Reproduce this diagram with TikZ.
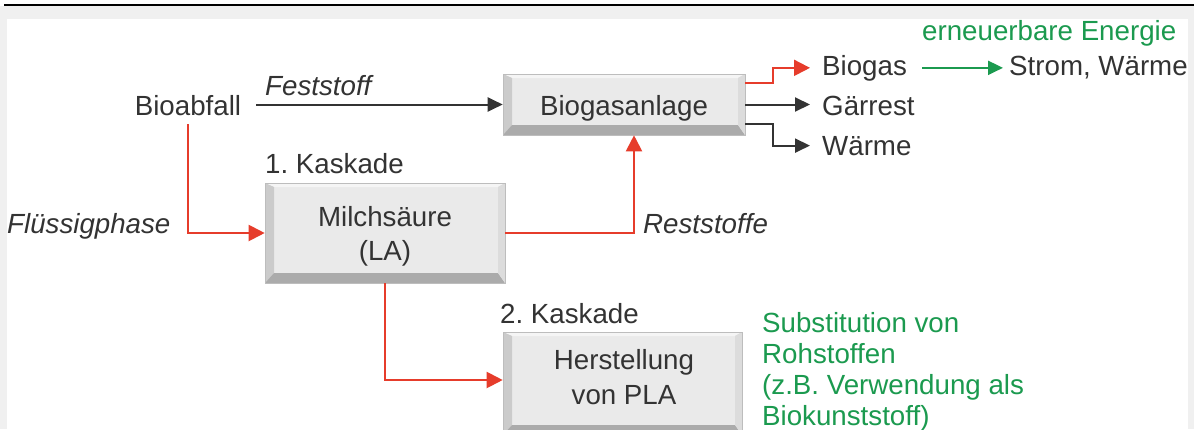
\documentclass[tikz,border=0pt]{standalone}
\usepackage{fontspec}
\setmainfont{Liberation Sans}
\usetikzlibrary{arrows.meta}
\frenchspacing
\definecolor{txtc}{HTML}{333333}
\definecolor{redc}{HTML}{E63C2B}
\definecolor{grnc}{HTML}{1B9A4F}
\definecolor{face}{HTML}{EAEAEA}
\definecolor{edgec}{HTML}{BDBDBD}
\definecolor{bevT}{HTML}{F5F5F5}
\definecolor{bevL}{HTML}{CBCBCB}
\definecolor{bevR}{HTML}{DCDCDC}
\definecolor{bevB}{HTML}{ABABAB}
\definecolor{bggray}{HTML}{F0F0F0}
\tikzset{
  txt/.style={inner sep=0pt, text=txtc, font=\fontsize{27.7}{34}\selectfont},
  itx/.style={inner sep=0pt, text=txtc, font=\fontsize{27.7}{34}\selectfont\itshape},
  gtx/.style={inner sep=0pt, text=grnc, align=left, font=\fontsize{27.7}{31}\selectfont},
  bbox/.style={draw=edgec, line width=0.6pt, fill=face, inner sep=0pt,
    path picture={
      \path (path picture bounding box.north west) coordinate (pNW)
            (path picture bounding box.south west) coordinate (pSW)
            (path picture bounding box.south east) coordinate (pSE)
            (path picture bounding box.north east) coordinate (pNE);
      \fill[bevT] (pNW) -- (pNE) -- ([shift={(-7pt,-4pt)}]pNE) -- ([shift={(9pt,-4pt)}]pNW) -- cycle;
      \fill[bevL] (pNW) -- ([shift={(9pt,-4pt)}]pNW) -- ([shift={(9pt,10pt)}]pSW) -- (pSW) -- cycle;
      \fill[bevB] (pSW) -- ([shift={(9pt,10pt)}]pSW) -- ([shift={(-7pt,10pt)}]pSE) -- (pSE) -- cycle;
      \fill[bevR] (pSE) -- ([shift={(-7pt,10pt)}]pSE) -- ([shift={(-7pt,-4pt)}]pNE) -- (pNE) -- cycle;
    }},
  blk/.style={draw=txtc, line width=2pt, -{Triangle[length=15pt,width=14pt]}},
  redl/.style={draw=redc, line width=2pt, -{Triangle[length=16pt,width=16pt]}},
  grnl/.style={draw=grnc, line width=2pt, -{Triangle[length=15pt,width=14pt]}}
}
\begin{document}
\begin{tikzpicture}[x=1pt,y=-1pt]
\useasboundingbox (0,0) rectangle (1194,429);
\clip (0,0) rectangle (1194,429);
% background
\fill[white] (0,0) rectangle (1194,429);
\fill[bggray] (0,6) rectangle (1194,429);
\fill[white] (7,19) rectangle (1188,429);
\draw[black, line width=2pt] (4,5) -- (1194,5);

% boxes
\node[bbox, minimum width=242pt, minimum height=61pt] (bga) at (624,104.5) {};
\node[bbox, minimum width=240pt, minimum height=100pt] (la) at (385,233) {};
\node[bbox, minimum width=239pt, minimum height=103pt] (pla) at (622.5,383.5) {};

% box texts
\node[txt, anchor=base] (bgat) at (624,115) {Biogasanlage};
\node[txt, align=center] (lat) at (385,236.8) {Milchsäure\\(LA)};
\node[txt, align=center, font=\fontsize{27.7}{35}\selectfont] (plat) at (624,377.4) {Herstellung\\von PLA};

% labels
\node[txt, anchor=base] (bio) at (188,115) {Bioabfall};
\node[itx, anchor=base west] (fest) at (265,95) {Feststoff};
\node[itx, anchor=base west] (flues) at (7,233) {Flüssigphase};
\node[txt, anchor=base west] (k1) at (265,173) {1. Kaskade};
\node[itx, anchor=base west] (rest) at (643,233) {Reststoffe};
\node[txt, anchor=base west] (k2) at (500,323) {2. Kaskade};
\node[txt, anchor=base west] (biogas) at (822,75) {Biogas};
\node[txt, anchor=base west] (gaer) at (822,115) {Gärrest};
\node[txt, anchor=base west] (waer) at (822,155) {Wärme};
\node[txt, anchor=base west] (strom) at (1009,75) {Strom, Wärme};
\node[gtx, anchor=base west] (ern) at (922,40) {erneuerbare Energie};
\node[gtx, anchor=west] (subst) at (762,371.8) {Substitution von\\Rohstoffen\\(z.B. Verwendung als\\Biokunststoff)};

% connectors
\draw[blk] ([xshift=15pt]bio.east |- bga.west) -- (bga.west);
\draw[redl] ([yshift=-9pt]bio.south) |- (la.west);
\draw[redl] (la.east) -| ([xshift=10pt]bga.south);
\draw[redl] (la.south) |- ([yshift=3.5pt]pla.west);
\draw[redl, shorten >=12pt] ([yshift=21.5pt]bga.east) -- ++(28,0) |- (biogas.west);
\draw[blk, shorten >=12pt] (bga.east) -- (bga.east -| gaer.west);
\draw[blk, shorten >=12pt] ([yshift=-19.5pt]bga.east) -- ++(28,0) |- (waer.west);
\draw[grnl, shorten <=15pt, shorten >=6pt] (biogas.east) -- (biogas.east -| strom.west);
\end{tikzpicture}
\end{document}
